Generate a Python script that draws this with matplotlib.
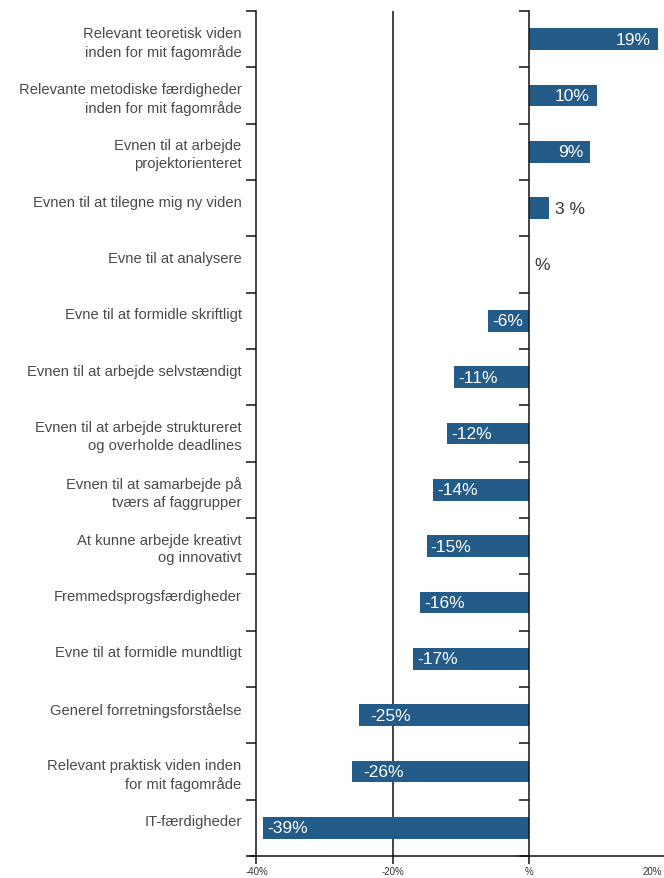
import matplotlib
matplotlib.use("Agg")
import matplotlib.pyplot as plt
from matplotlib.transforms import blended_transform_factory, offset_copy, ScaledTranslation

categories = [
    "Relevant teoretisk viden\ninden for mit fagområde",
    "Relevante metodiske færdigheder\ninden for mit fagområde",
    "Evnen til at arbejde\nprojektorienteret",
    "Evnen til at tilegne mig ny viden",
    "Evne til at analysere",
    "Evne til at formidle skriftligt",
    "Evnen til at arbejde selvstændigt",
    "Evnen til at arbejde struktureret\nog overholde deadlines",
    "Evnen til at samarbejde på\ntværs af faggrupper",
    "At kunne arbejde kreativt\nog innovativt",
    "Fremmedsprogsfærdigheder",
    "Evne til at formidle mundtligt",
    "Generel forretningsforståelse",
    "Relevant praktisk viden inden\nfor mit fagområde",
    "IT-færdigheder",
]
values = [19, 10, 9, 3, 0, -6, -11, -12, -14, -15, -16, -17, -25, -26, -39]
value_labels = ["19%", "10%", "9%", "3 %", "%", "-6%", "-11%", "-12%", "-14%",
                "-15%", "-16%", "-17%", "-25%", "-26%", "-39%"]
xticks = [-40, -20, 0, 20]
xtick_labels = ["-40%", "-20%", "%", "20%"]

BAR = "#235b89"
TXT = "#4a4a4a"
plt.rcParams["font.family"] = ["Liberation Sans", "DejaVu Sans"]

fig = plt.figure(figsize=(6.64, 8.79), dpi=100)
W, H = 664, 879
left, right, top, bottom = 250, 665.5, 12, 857
ax = fig.add_axes([left / W, 1 - bottom / H, (right - left) / W, (bottom - top) / H])

n = len(categories)
ypos = [i + 0.5 for i in range(n)]
ax.barh(ypos, values, height=0.39, color=BAR, zorder=3)

ax.set_xlim(-40.95, 20.1)
ax.set_ylim(n, 0)
ax.axvline(-20, color="#111111", lw=1.1, zorder=1)

# left spine sits at -40 edge; ticks at row boundaries
for s in ["top", "right"]:
    ax.spines[s].set_visible(False)
ax.spines["left"].set_position(("data", -40))
ax.spines["left"].set_bounds(0, n)
for s in ["left", "bottom"]:
    ax.spines[s].set_color("#111111")
    ax.spines[s].set_linewidth(1.1)
ax.set_yticks(range(n + 1))
ax.set_yticklabels([])
ax.tick_params(axis="y", direction="out", length=7, width=1.1, color="#111111")

ax.set_xticks(xticks)
ax.set_xticklabels(xtick_labels, fontsize=7, color="#333333")
ax.tick_params(axis="x", direction="out", length=6, width=1.1, color="#111111", pad=1)
last = ax.get_xticklabels()[-1]
last.set_ha("right")
last.set_transform(last.get_transform() + ScaledTranslation(-3 / 100, 0, fig.dpi_scale_trans))

# second axis line at zero with its own left-facing ticks
ax2 = ax.twinx()
ax2.set_ylim(n, 0)
ax2.yaxis.tick_left()
for s in ["top", "right", "bottom"]:
    ax2.spines[s].set_visible(False)
ax2.spines["left"].set_position(("data", 0))
ax2.spines["left"].set_color("#111111")
ax2.spines["left"].set_linewidth(1.1)
ax2.set_yticks(range(n + 1))
ax2.set_yticklabels([])
ax2.tick_params(axis="y", direction="out", length=7, width=1.1, color="#111111")
ax2.patch.set_visible(False)

# category labels, right aligned left of the axis
lab_tr = offset_copy(blended_transform_factory(ax.transAxes, ax.transData),
                     fig=fig, x=-6, y=0, units="points")
for i, c in enumerate(categories):
    ax.text(0, i + 0.26, c, transform=lab_tr, ha="right", va="top",
            fontsize=10.6, color=TXT, linespacing=1.35)

# value labels
for y, v, lab in zip(ypos, values, value_labels):
    if v >= 5:
        ax.annotate(lab, (v, y), xytext=(-7, 0), textcoords="offset pixels",
                    ha="right", va="center", color="white", fontsize=12.5, zorder=4)
    elif v >= 0:
        ax.annotate(lab, (v, y), xytext=(6, 0), textcoords="offset pixels",
                    ha="left", va="center", color="#333333", fontsize=12.5, zorder=4)
    else:
        pad = 12 if v in (-25, -26) else 4
        ax.annotate(lab, (v, y), xytext=(pad, 0), textcoords="offset pixels",
                    ha="left", va="center", color="white", fontsize=12.5, zorder=4)

fig.savefig("out.png", dpi=100)
